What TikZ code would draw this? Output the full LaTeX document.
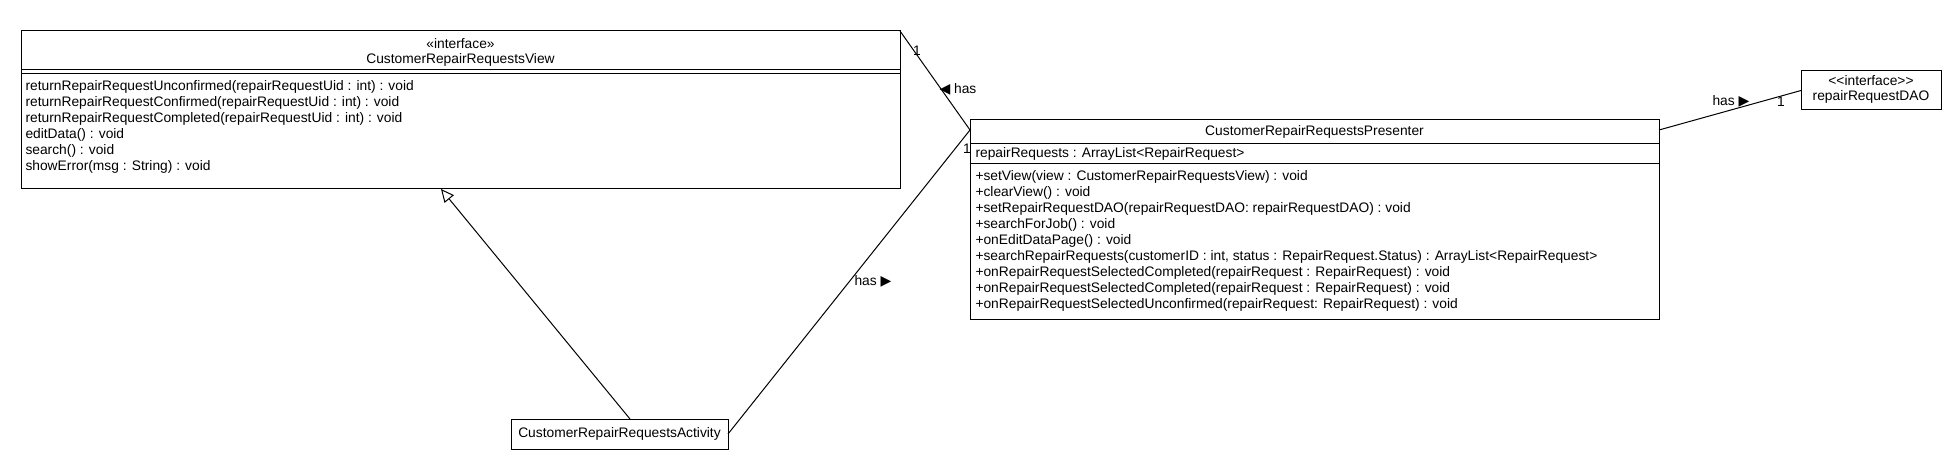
\documentclass[tikz,border=0pt]{standalone}
\usepackage{fontspec}
\setmainfont{Liberation Sans}
\newfontfamily\symfont{DejaVu Sans}
\usetikzlibrary{arrows.meta}

\tikzset{
  umlfont/.style={font=\fontsize{13.8}{16}\selectfont},
  classbox/.style={draw, rectangle, anchor=north west, inner sep=0pt, outer sep=0pt},
  textline/.style={umlfont, inner sep=0pt, text height=10pt, text depth=3pt},
  opslist/.style={umlfont, anchor=north west, align=left, inner sep=0pt},
}
\newcommand{\dirmark}[1]{{\symfont\fontsize{14}{14}\selectfont #1}}

\begin{document}
\begin{tikzpicture}[x=1pt, y=-1pt, line width=1pt]
    \useasboundingbox (0,0) rectangle (1960,470);

    % View interface
    \node[classbox, minimum width=879pt, minimum height=158pt] (view) at (21,31) {};
    \node[textline] (viewstereo) at (460.5,45.5) {«interface»};
    \node[textline] (viewname) at (460.5,60) {CustomerRepairRequestsView};
    \draw ([yshift=-39pt]view.north west) -- ([yshift=-39pt]view.north east);
    \draw ([yshift=-43pt]view.north west) -- ([yshift=-43pt]view.north east);
    \node[opslist] (viewops) at (25,80) {returnRepairRequestUnconfirmed(repairRequestUid : int) : void\\
      returnRepairRequestConfirmed(repairRequestUid : int) : void\\
      returnRepairRequestCompleted(repairRequestUid : int) : void\\
      editData() : void\\
      search() : void\\
      showError(msg : String) : void};

    % Presenter class
    \node[classbox, minimum width=689pt, minimum height=200pt] (pres) at (970,120) {};
    \node[textline] (presname) at (1314.5,132.5) {CustomerRepairRequestsPresenter};
    \draw ([yshift=-24pt]pres.north west) -- ([yshift=-24pt]pres.north east);
    \node[textline, anchor=west] (presattr) at (975,154) {repairRequests : ArrayList<RepairRequest>};
    \draw ([yshift=-44pt]pres.north west) -- ([yshift=-44pt]pres.north east);
    \node[opslist] (presops) at (975,170.5) {+setView(view : CustomerRepairRequestsView) : void\\
      +clearView() : void\\
      +setRepairRequestDAO(repairRequestDAO: repairRequestDAO) : void\\
      +searchForJob() : void\\
      +onEditDataPage() : void\\
      +searchRepairRequests(customerID : int, status : RepairRequest.Status) : ArrayList<RepairRequest>\\
      +onRepairRequestSelectedCompleted(repairRequest : RepairRequest) : void\\
      +onRepairRequestSelectedCompleted(repairRequest : RepairRequest) : void\\
      +onRepairRequestSelectedUnconfirmed(repairRequest: RepairRequest) : void};

    % DAO interface
    \node[classbox, minimum width=140pt, minimum height=39pt] (dao) at (1801,71) {};
    \node[textline] (daostereo) at (1871,82) {{<}{<}interface{>}{>}};
    \node[textline] (daoname) at (1871,97) {repairRequestDAO};

    % Activity class
    \node[classbox, minimum width=217pt, minimum height=30pt] (act) at (511,419) {};
    \node[textline] (actname) at (619.5,434) {CustomerRepairRequestsActivity};

    % Realization
    \draw[-{Triangle[open, length=13pt, width=12pt]}] ([xshift=10.5pt]act.north) -- ([xshift=-19.5pt]view.south);

    % Associations
    \draw (view.north east) -- ([yshift=-10pt]pres.north west);
    \node[textline] (viewmult) at (917,52) {1};
    \node[textline, anchor=west] (viewhas) at (939,90) {\dirmark{◀} has};

    \draw (act.east) -- ([yshift=-10pt]pres.north west);
    \node[textline] (actmult) at (967,150) {1};
    \node[textline, anchor=west] (acthas) at (854,282) {has \dirmark{▶}};

    \draw ([yshift=-10pt]pres.north east) -- (dao.west);
    \node[textline, anchor=west] (daohas) at (1712,102) {has \dirmark{▶}};
    \node[textline] (daomult) at (1781,103) {1};
\end{tikzpicture}
\end{document}
